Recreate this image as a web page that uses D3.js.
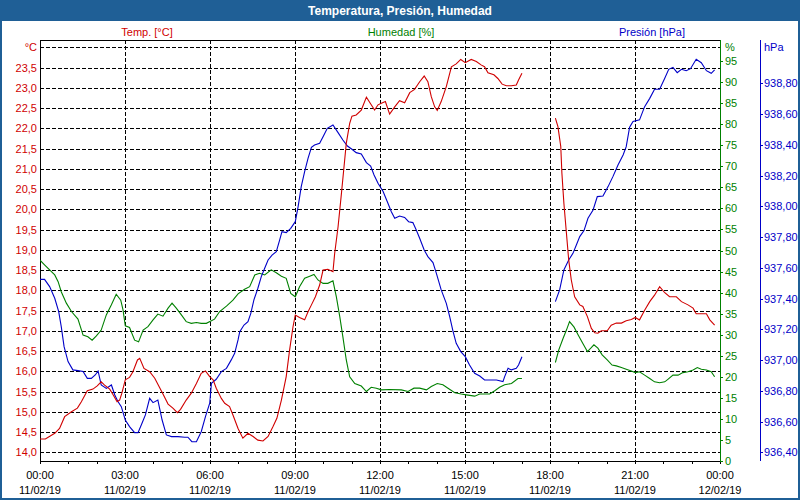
<!DOCTYPE html>
<html><head><meta charset="utf-8">
<script src="https://cdn.jsdelivr.net/npm/d3@7"></script>
<style>body{margin:0;background:#fff} svg{display:block;font-family:"Liberation Sans",Arial,sans-serif}</style>
</head><body><svg id="c" width="800" height="500"></svg>
<script>
// ---- data (hour of day, value) ----
const title = "Temperatura, Presión, Humedad";
const seriesNames = ["Temp. [°C]", "Humedad [%]", "Presión [hPa]"];
const timeLabels = ["00:00","03:00","06:00","09:00","12:00","15:00","18:00","21:00","00:00"];
const dateLabels = ["11/02/19","11/02/19","11/02/19","11/02/19","11/02/19","11/02/19","11/02/19","11/02/19","12/02/19"];
const tempTicks = [14.0,14.5,15.0,15.5,16.0,16.5,17.0,17.5,18.0,18.5,19.0,19.5,20.0,20.5,21.0,21.5,22.0,22.5,23.0,23.5];
const humTicks = [0,5,10,15,20,25,30,35,40,45,50,55,60,65,70,75,80,85,90,95];
const presTicks = [936.4,936.6,936.8,937.0,937.2,937.4,937.6,937.8,938.0,938.2,938.4,938.6,938.8];

const temperature = [[0,14.33],[0.19,14.33],[0.52,14.47],[0.69,14.59],[0.87,14.88],[1.11,15.00],[1.32,15.09],[1.46,15.25],[1.67,15.52],[1.87,15.56],[2.02,15.64],[2.16,15.74],[2.28,15.66],[2.46,15.56],[2.58,15.42],[2.72,15.25],[2.81,15.29],[2.89,15.46],[3.01,15.79],[3.16,15.85],[3.28,15.99],[3.44,16.28],[3.52,16.32],[3.67,16.07],[3.87,15.99],[4.05,15.83],[4.22,15.60],[4.34,15.44],[4.52,15.19],[4.69,15.09],[4.85,14.98],[4.96,15.06],[5.16,15.29],[5.34,15.46],[5.52,15.70],[5.69,15.95],[5.84,16.01],[5.99,15.87],[6.11,15.79],[6.22,15.58],[6.40,15.33],[6.52,15.21],[6.69,15.13],[6.81,14.92],[6.99,14.59],[7.16,14.35],[7.34,14.47],[7.52,14.39],[7.69,14.30],[7.87,14.28],[8.05,14.39],[8.22,14.63],[8.36,14.84],[8.52,15.29],[8.69,15.87],[8.81,16.53],[8.93,17.10],[9.01,17.39],[9.16,17.33],[9.34,17.27],[9.46,17.47],[9.58,17.64],[9.72,17.84],[9.87,18.13],[9.99,18.50],[10.16,18.52],[10.34,18.46],[10.40,18.91],[10.52,19.57],[10.64,20.40],[10.73,21.05],[10.81,21.63],[10.93,22.12],[11.01,22.30],[11.16,22.33],[11.34,22.45],[11.52,22.77],[11.69,22.58],[11.81,22.45],[11.93,22.58],[12.05,22.62],[12.19,22.66],[12.34,22.35],[12.52,22.53],[12.69,22.68],[12.87,22.63],[13.05,22.88],[13.22,22.96],[13.40,23.15],[13.56,23.29],[13.69,23.15],[13.81,22.78],[13.93,22.53],[14.02,22.44],[14.16,22.66],[14.34,23.03],[14.52,23.52],[14.69,23.59],[14.85,23.70],[15.01,23.62],[15.22,23.70],[15.40,23.65],[15.58,23.56],[15.69,23.52],[15.81,23.37],[16.02,23.32],[16.16,23.23],[16.31,23.09],[16.46,23.05],[16.64,23.05],[16.81,23.07],[16.89,23.19],[17.01,23.36],[17.6,null],[18.19,22.25],[18.28,22.04],[18.38,21.55],[18.42,20.89],[18.49,20.15],[18.58,19.41],[18.66,18.75],[18.75,18.26],[18.87,17.84],[19.05,17.64],[19.16,17.60],[19.32,17.35],[19.46,17.06],[19.58,16.95],[19.69,16.94],[19.81,17.00],[20.02,17.00],[20.16,17.14],[20.34,17.19],[20.52,17.19],[20.69,17.25],[20.87,17.28],[21.01,17.33],[21.16,17.27],[21.34,17.51],[21.52,17.72],[21.69,17.88],[21.87,18.09],[22.05,17.94],[22.22,17.84],[22.46,17.84],[22.64,17.72],[22.87,17.64],[23.05,17.56],[23.16,17.42],[23.34,17.42],[23.52,17.42],[23.64,17.27],[23.81,17.14]];

const humidity = [[0,47.7],[0.16,46.6],[0.34,45.4],[0.52,44.2],[0.64,42.6],[0.75,40.2],[0.93,37.5],[1.11,35.5],[1.34,33.7],[1.52,29.9],[1.69,29.5],[1.84,28.7],[1.99,29.7],[2.16,31.1],[2.34,34.7],[2.52,37.1],[2.69,39.6],[2.85,38.2],[2.93,35.9],[3.01,32.1],[3.16,31.7],[3.34,28.7],[3.48,28.3],[3.64,31.1],[3.81,31.9],[3.99,33.5],[4.16,34.9],[4.34,34.4],[4.52,36.3],[4.66,37.5],[4.81,36.3],[4.99,34.7],[5.16,33.1],[5.34,32.7],[5.52,32.9],[5.69,32.7],[5.87,32.7],[6.16,33.7],[6.34,35.5],[6.58,36.8],[6.81,38.2],[6.99,39.7],[7.22,40.8],[7.40,41.4],[7.58,44.2],[7.75,44.6],[7.93,44.2],[8.16,45.4],[8.34,44.7],[8.52,43.9],[8.69,43.4],[8.85,39.8],[9.01,39.0],[9.16,41.4],[9.34,43.4],[9.52,43.9],[9.67,44.3],[9.81,43.0],[9.99,42.2],[10.16,42.2],[10.34,42.8],[10.46,39.0],[10.58,34.3],[10.69,29.5],[10.81,24.0],[10.93,20.0],[11.11,18.4],[11.34,17.8],[11.52,16.5],[11.69,17.5],[11.87,17.3],[12.05,16.9],[12.34,17.0],[12.75,16.9],[12.99,16.5],[13.20,17.3],[13.40,17.3],[13.64,16.9],[13.81,17.7],[14.02,18.4],[14.22,18.1],[14.40,17.3],[14.64,16.2],[14.87,15.9],[15.05,15.7],[15.34,15.4],[15.52,15.9],[15.87,15.9],[16.05,16.7],[16.22,17.5],[16.40,18.1],[16.64,18.4],[16.87,19.6],[17.01,19.6],[17.6,null],[18.19,23.4],[18.31,26.4],[18.46,29.1],[18.58,31.1],[18.69,33.1],[18.85,31.8],[18.99,30.0],[19.16,27.9],[19.32,26.0],[19.44,26.8],[19.55,27.6],[19.69,26.8],[19.84,25.2],[20.02,24.0],[20.19,22.8],[20.34,22.6],[20.52,22.2],[20.69,21.8],[20.87,21.4],[21.01,21.0],[21.16,21.2],[21.34,20.4],[21.52,19.6],[21.69,18.8],[21.87,18.6],[22.05,18.8],[22.16,19.4],[22.34,20.4],[22.52,20.4],[22.69,21.0],[22.87,21.2],[23.05,21.6],[23.20,22.2],[23.34,21.8],[23.52,21.6],[23.69,21.2],[23.81,20.0]];

const pressure = [[0,937.525],[0.16,937.525],[0.34,937.478],[0.52,937.402],[0.66,937.315],[0.75,937.217],[0.85,937.087],[0.99,936.990],[1.16,936.936],[1.34,936.931],[1.52,936.925],[1.67,936.881],[1.81,936.881],[1.95,936.903],[2.05,936.929],[2.16,936.838],[2.34,936.816],[2.52,936.838],[2.64,936.773],[2.75,936.730],[2.87,936.697],[3.01,936.610],[3.16,936.567],[3.34,936.528],[3.46,936.528],[3.60,936.589],[3.72,936.643],[3.87,936.751],[3.99,936.723],[4.16,936.740],[4.31,936.610],[4.46,936.513],[4.64,936.502],[4.87,936.502],[5.11,936.498],[5.22,936.498],[5.36,936.469],[5.52,936.469],[5.69,936.534],[5.84,936.632],[5.99,936.719],[6.05,936.849],[6.22,936.875],[6.40,936.925],[6.58,936.946],[6.75,937.001],[6.87,937.044],[6.99,937.131],[7.05,937.185],[7.20,937.228],[7.34,937.250],[7.44,937.304],[7.55,937.391],[7.69,937.467],[7.81,937.543],[7.93,937.597],[8.05,937.651],[8.19,937.683],[8.34,937.705],[8.46,937.781],[8.54,937.835],[8.69,937.829],[8.85,937.857],[9.01,937.900],[9.11,937.998],[9.22,938.128],[9.34,938.225],[9.46,938.312],[9.58,938.384],[9.69,938.399],[9.87,938.410],[9.99,938.453],[10.14,938.507],[10.34,938.529],[10.52,938.479],[10.69,938.431],[10.85,938.392],[11.01,938.371],[11.16,938.349],[11.34,938.340],[11.52,938.284],[11.67,938.262],[11.79,938.204],[11.93,938.150],[12.11,938.096],[12.28,938.020],[12.40,937.965],[12.52,937.922],[12.69,937.937],[12.87,937.928],[13.01,937.900],[13.16,937.894],[13.28,937.846],[13.40,937.792],[13.56,937.716],[13.69,937.673],[13.87,937.634],[13.99,937.564],[14.16,937.456],[14.34,937.369],[14.46,937.282],[14.58,937.185],[14.69,937.109],[14.85,937.055],[15.01,937.022],[15.16,936.968],[15.34,936.914],[15.52,936.896],[15.69,936.870],[15.93,936.870],[16.11,936.870],[16.34,936.860],[16.40,936.892],[16.52,936.946],[16.64,936.936],[16.81,936.946],[16.89,936.968],[17.01,937.022],[17.6,null],[18.19,937.380],[18.34,937.456],[18.49,937.586],[18.66,937.651],[18.81,937.694],[18.93,937.748],[19.05,937.803],[19.20,937.842],[19.34,937.922],[19.52,937.976],[19.67,938.063],[19.87,938.067],[20.05,938.128],[20.22,938.193],[20.40,938.269],[20.58,938.334],[20.69,938.388],[20.81,938.514],[20.93,938.551],[21.16,938.562],[21.34,938.648],[21.52,938.702],[21.69,938.761],[21.87,938.761],[22.05,938.833],[22.19,938.891],[22.34,938.904],[22.49,938.869],[22.64,938.891],[22.81,938.882],[22.96,938.895],[23.16,938.956],[23.34,938.934],[23.52,938.882],[23.69,938.865],[23.81,938.887]];

// ---- drawing ----
const RED = "#d00000", GREEN = "#008000", BLUE = "#0000c8", FRAME = "#1f5f96";
const svg = d3.select("#c");
const L = 40, R = 720, T = 40, B = 461;

const x = d3.scaleLinear().domain([0, 24]).range([L, R]);
const yT = d3.scaleLinear().domain([14, 24]).range([452.3, 47.3]);
const yH = d3.scaleLinear().domain([0, 100]).range([B, T]);
const yP = d3.scaleLinear().domain([936.4, 938.8]).range([452.3, 83.3]);
const comma = (f) => (d) => d3.format(f)(d).replace(".", ",");

svg.append("rect").attr("x", 1).attr("y", 1).attr("width", 798).attr("height", 498)
  .attr("fill", "#fff").attr("stroke", FRAME).attr("stroke-width", 2);
svg.append("rect").attr("x", 0).attr("y", 0).attr("width", 800).attr("height", 21).attr("fill", FRAME);
svg.append("text").attr("x", 400).attr("y", 15).attr("text-anchor", "middle")
  .attr("fill", "#fff").attr("font-weight", "bold").attr("font-size", 12).text(title);

const hdrX = [147, 401, 652], hdrC = [RED, GREEN, BLUE];
seriesNames.forEach((s, i) => svg.append("text").attr("x", hdrX[i]).attr("y", 36)
  .attr("text-anchor", "middle").attr("font-size", 11).attr("fill", hdrC[i]).text(s));

// grid
const grid = svg.append("g").attr("stroke", "#000").attr("stroke-dasharray", "4,2")
  .attr("shape-rendering", "crispEdges");
grid.selectAll("line.h").data(tempTicks.concat([24])).join("line")
  .attr("x1", L).attr("x2", R)
  .attr("y1", d => Math.round(yT(d)) + 0.5).attr("y2", d => Math.round(yT(d)) + 0.5);
grid.selectAll("line.v").data([3, 6, 9, 12, 15, 18, 21]).join("line")
  .attr("x1", d => Math.round(x(d)) + 0.5).attr("x2", d => Math.round(x(d)) + 0.5)
  .attr("y1", T).attr("y2", B);

// frame lines
const fr = svg.append("g").attr("shape-rendering", "crispEdges");
fr.append("line").attr("x1", L + 0.5).attr("x2", L + 0.5).attr("y1", T).attr("y2", B + 1).attr("stroke", "#000");
fr.append("line").attr("x1", L).attr("x2", R).attr("y1", T + 0.5).attr("y2", T + 0.5).attr("stroke", "#000");

// left temperature labels
const gl = svg.append("g").attr("font-size", 11).attr("fill", RED).attr("text-anchor", "end");
gl.selectAll("text").data(tempTicks).join("text")
  .attr("x", 37).attr("y", d => yT(d)).attr("dy", "0.36em").text(comma(".1f"));
gl.append("text").attr("x", 37).attr("y", yT(24)).attr("dy", "0.36em").text("°C");

// bottom axis
const gx = svg.append("g").attr("transform", `translate(0,${B})`)
  .call(d3.axisBottom(x).tickValues(d3.range(0, 25, 1)).tickSize(3).tickFormat(""));
gx.selectAll("path,line").attr("stroke", "#000").attr("shape-rendering", "crispEdges");
const bl = svg.append("g").attr("font-size", 11).attr("fill", "#000").attr("text-anchor", "middle");
timeLabels.forEach((t, i) => {
  bl.append("text").attr("x", x(i * 3)).attr("y", 479).text(t);
  bl.append("text").attr("x", x(i * 3)).attr("y", 494).text(dateLabels[i]);
});

// humidity axis (right, green)
const gh = svg.append("g").attr("transform", `translate(${R},0)`)
  .call(d3.axisRight(yH).tickValues(humTicks).tickSize(3).tickPadding(2).tickFormat(d3.format("d")));
gh.select(".domain").attr("stroke", GREEN).attr("d", `M0.5,${T}V${B + 1}`);
gh.selectAll("line").attr("stroke", GREEN);
gh.selectAll("text").attr("fill", GREEN).attr("font-size", 11).attr("font-family", null);
gh.attr("shape-rendering", "crispEdges");
svg.append("text").attr("x", 725).attr("y", yT(24)).attr("dy", "0.36em")
  .attr("font-size", 11).attr("fill", GREEN).text("%");

// pressure axis (right, blue)
const gp = svg.append("g").attr("transform", `translate(760,0)`)
  .call(d3.axisRight(yP).tickValues(presTicks).tickSize(3).tickPadding(1).tickFormat(comma(".2f")));
gp.select(".domain").attr("stroke", BLUE).attr("d", `M0.5,${T}V${B}`);
gp.selectAll("line").attr("stroke", BLUE);
gp.selectAll("text").attr("fill", BLUE).attr("font-size", 11).attr("font-family", null);
gp.attr("shape-rendering", "crispEdges");
svg.append("text").attr("x", 764).attr("y", yT(24)).attr("dy", "0.36em")
  .attr("font-size", 11).attr("fill", BLUE).text("hPa");

// series lines
svg.append("clipPath").attr("id", "plot").append("rect")
  .attr("x", L).attr("y", T).attr("width", R - L).attr("height", B - T);
const mk = (ys) => d3.line().defined(d => d[1] !== null).x(d => x(d[0])).y(d => ys(d[1]));
const lines = svg.append("g").attr("clip-path", "url(#plot)").attr("fill", "none").attr("stroke-width", 1.1);
lines.append("path").attr("d", mk(yH)(humidity)).attr("stroke", GREEN);
lines.append("path").attr("d", mk(yP)(pressure)).attr("stroke", BLUE);
lines.append("path").attr("d", mk(yT)(temperature)).attr("stroke", RED);
</script></body></html>
